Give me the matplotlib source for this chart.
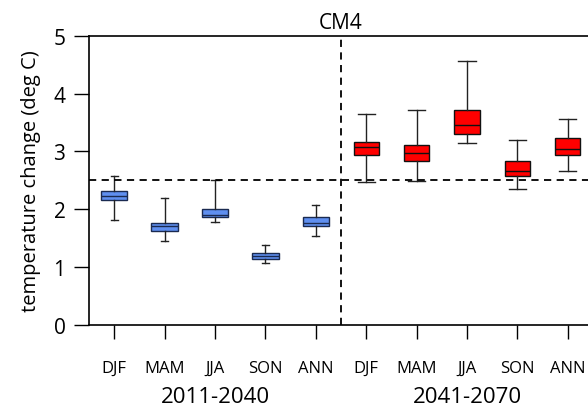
import matplotlib
matplotlib.use("Agg")
import matplotlib.pyplot as plt

plt.rcParams.update({"font.family": ["Open Sans", "DejaVu Sans"]})

seasons = ["DJF", "MAM", "JJA", "SON", "ANN"]
periods = ["2011-2040", "2041-2070"]

# five-number summaries, per period
low_1 = [1.81, 1.44, 1.78, 1.06, 1.53]
q1_1 = [2.15, 1.62, 1.86, 1.14, 1.70]
med_1 = [2.23, 1.70, 1.90, 1.19, 1.76]
q3_1 = [2.31, 1.76, 2.00, 1.24, 1.86]
high_1 = [2.58, 2.19, 2.50, 1.38, 2.07]

low_2 = [2.47, 2.49, 3.14, 2.35, 2.66]
q1_2 = [2.93, 2.83, 3.30, 2.57, 2.94]
med_2 = [3.08, 2.98, 3.45, 2.66, 3.04]
q3_2 = [3.17, 3.11, 3.72, 2.84, 3.23]
high_2 = [3.64, 3.71, 4.56, 3.19, 3.56]

threshold = 2.5


def stats(lo, a, m, b, hi):
    return [{"whislo": w0, "q1": x1, "med": md, "q3": x3, "whishi": w1, "fliers": []}
            for w0, x1, md, x3, w1 in zip(lo, a, m, b, hi)]


fig = plt.figure(figsize=(5.88, 4.10), dpi=100)
ax = fig.add_axes([89 / 588, 1 - 325.5 / 410, 504 / 588, 288.5 / 410])

pos1 = list(range(1, 6))
pos2 = list(range(6, 11))
ax.bxp(stats(low_1, q1_1, med_1, q3_1, high_1), positions=pos1, widths=0.52,
       patch_artist=True, showfliers=False,
       boxprops=dict(facecolor="#5f8ff0", edgecolor="#1a2a50", linewidth=1.0),
       medianprops=dict(color="#1a2a50", linewidth=1.0),
       whiskerprops=dict(color="#222222", linewidth=1.0),
       capprops=dict(color="#222222", linewidth=1.0), capwidths=0.14)
ax.bxp(stats(low_2, q1_2, med_2, q3_2, high_2), positions=pos2, widths=0.5,
       patch_artist=True, showfliers=False,
       boxprops=dict(facecolor="#ff0000", edgecolor="#111111", linewidth=1.0),
       medianprops=dict(color="#111111", linewidth=1.0),
       whiskerprops=dict(color="#222222", linewidth=1.0),
       capprops=dict(color="#222222", linewidth=1.0), capwidths=0.34)

ax.axhline(threshold, color="black", ls=(0, (4, 3)), lw=1.3)
ax.axvline(5.5, color="black", ls=(0, (4, 3)), lw=1.3)

ax.set_xlim(0.5, 10.5)
ax.set_ylim(0, 5)
ax.set_yticks([0, 1, 2, 3, 4, 5])
ax.set_xticks(pos1 + pos2)
ax.set_xticklabels([])
ax.tick_params(axis="both", direction="out", length=11, width=1, labelsize=15, pad=6)
ax.tick_params(axis="x", length=10)
for s in ax.spines.values():
    s.set_linewidth(1.2)
ax.set_ylabel("temperature change (deg C)", fontsize=14.5, labelpad=9)
ax.set_title("CM4", fontsize=15, pad=6)

for p, lab in zip(pos1 + pos2, seasons + seasons):
    ax.text(p, -0.75, lab, ha="center", va="center", fontsize=12, clip_on=False)
ax.text(3, -1.24, periods[0], ha="center", va="center", fontsize=16, clip_on=False)
ax.text(8, -1.24, periods[1], ha="center", va="center", fontsize=16, clip_on=False)

fig.savefig("out.png", dpi=100)
